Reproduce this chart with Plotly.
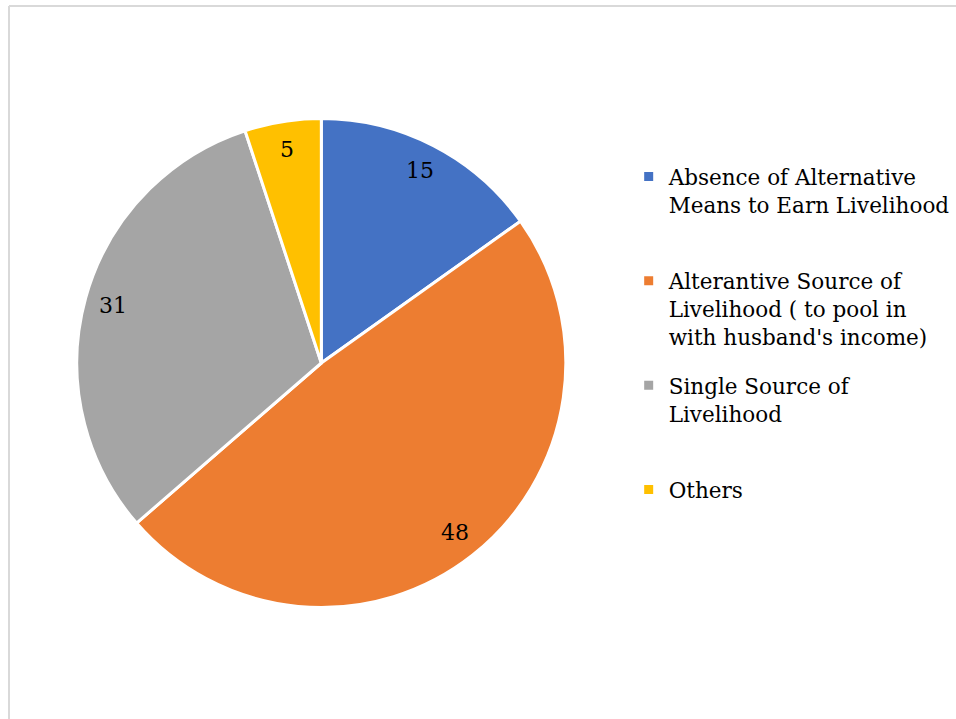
import math
import plotly.graph_objects as go

categories = [
    "Absence of Alternative<br>Means to Earn Livelihood<br>&nbsp;",
    "Alterantive Source of<br>Livelihood ( to pool in<br>with husband's income)",
    "Single Source of<br>Livelihood<br>&nbsp;",
    "Others",
]
values = [15, 48, 31, 5]
colors = ["#4472C4", "#ED7D31", "#A5A5A5", "#FFC000"]

W, H = 956, 719
CX, CY, R = 322, 363, 243  # pie centre / radius in pixels
RD = R + 2                 # domain half-size (plotly trims a little for the outline)
FONT = "DejaVu Serif"
LEG_SIZE = 21.5
LBL_SIZE = 22

fig = go.Figure()
fig.add_trace(go.Pie(
    labels=categories,
    values=values,
    sort=False,
    direction="clockwise",
    rotation=0,
    marker=dict(colors=colors, line=dict(color="white", width=3)),
    textinfo="none",
    hoverinfo="label+value",
    showlegend=False,
    domain=dict(x=[(CX - RD) / W, (CX + RD) / W], y=[(H - CY - RD) / H, (H - CY + RD) / H]),
))

# legend entries (one per category, evenly spaced slots like the original)
for i, (cat, col) in enumerate(zip(categories, colors)):
    fig.add_trace(go.Scatter(
        x=[None], y=[None], mode="markers", name=cat,
        marker=dict(symbol="square", size=9, color=col),
        legendgroup=f"g{i}", showlegend=True, hoverinfo="skip",
    ))

# data labels placed along each slice's mid-angle
total = sum(values)
cum = 0
annotations = []
for v in values:
    mid = 2 * math.pi * (cum + v / 2) / total
    cum += v
    px = CX + 0.89 * R * math.sin(mid)
    py = CY - 0.89 * R * math.cos(mid)
    annotations.append(dict(
        x=px / W, y=1 - py / H, xref="paper", yref="paper",
        text=str(v), showarrow=False,
        font=dict(family=FONT, size=LBL_SIZE, color="#000000"),
        xanchor="center", yanchor="middle",
    ))

fig.update_layout(
    width=W, height=H,
    margin=dict(l=0, r=0, t=0, b=0),
    paper_bgcolor="white",
    plot_bgcolor="white",
    xaxis=dict(visible=False),
    yaxis=dict(visible=False),
    annotations=annotations,
    showlegend=True,
    legend=dict(
        x=630 / W, y=1 - 156 / H, xanchor="left", yanchor="top",
        font=dict(family=FONT, size=LEG_SIZE, color="#000000"),
        valign="top",
        itemwidth=30,
        traceorder="grouped",
        tracegroupgap=17.5,
        bgcolor="rgba(0,0,0,0)",
    ),
    shapes=[
        dict(type="line", xref="paper", yref="paper",
             x0=9 / W, x1=1.01, y0=1 - 6 / H, y1=1 - 6 / H,
             line=dict(color="#D9D9D9", width=2)),
        dict(type="line", xref="paper", yref="paper",
             x0=9 / W, x1=9 / W, y0=1 - 6 / H, y1=-0.01,
             line=dict(color="#D9D9D9", width=2)),
    ],
)

fig.write_html("out.html", config={"displayModeBar": False},
               post_script="document.body.style.margin='0';")
